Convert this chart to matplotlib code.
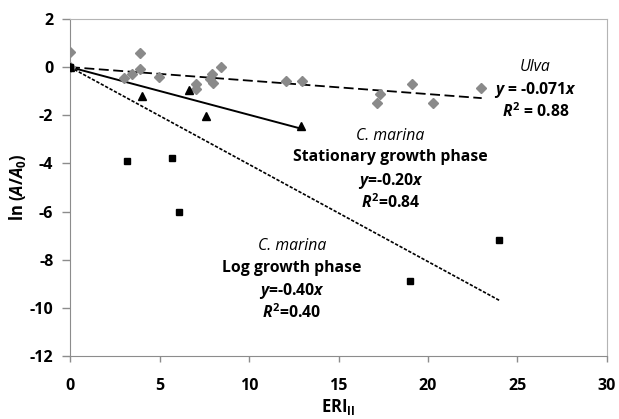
import numpy as np
import matplotlib
matplotlib.use("Agg")
import matplotlib.pyplot as plt

plt.rcParams['font.family'] = ['Open Sans', 'DejaVu Sans']
plt.rcParams['axes.unicode_minus'] = False
plt.rcParams['mathtext.fontset'] = 'custom'
plt.rcParams['mathtext.rm'] = 'Open Sans:bold'
plt.rcParams['mathtext.bf'] = 'Open Sans:bold'
plt.rcParams['mathtext.it'] = 'Open Sans:italic:bold'

# Ulva (grey diamonds)
ulva_x = [0, 0, 3.03, 3.45, 3.93, 3.93, 4.99, 7.02, 7.06, 7.82, 7.95, 8.0, 8.42,
          12.07, 12.98, 17.13, 17.32, 19.1, 20.28, 22.94]
ulva_y = [0.61, 0, -0.44, -0.29, 0.6, -0.08, -0.39, -0.72, -0.89, -0.49, -0.29,
          -0.64, 0.0, -0.56, -0.56, -1.49, -1.1, -0.71, -1.51, -0.86]
ulva_line = [0, -0.056]
ulva_xmax = 23.0

# C. marina stationary phase (triangles)
stat_x = [0, 4.04, 6.63, 7.6, 12.9]
stat_y = [0, -1.21, -0.93, -2.03, -2.46]
stat_line = [0, -0.198]
stat_xmax = 12.9

# C. marina log phase (squares)
log_x = [0, 3.17, 5.68, 6.07, 18.99, 23.98]
log_y = [0, -3.89, -3.76, -6.0, -8.9, -7.2]
log_line = [0, -0.404]
log_xmax = 24.0

fig = plt.figure(figsize=(6.19, 4.19), dpi=100)
ax = fig.add_axes([0.1131, 0.1504, 0.8675, 0.8043])

ax.plot(ulva_x, ulva_y, 'D', color='#8a8a8a', ms=5.2, zorder=3)
ax.plot(stat_x, stat_y, '^', color='black', ms=6, zorder=4)
ax.plot(log_x, log_y, 's', color='black', ms=4.8, zorder=5)

xx = np.array([0, ulva_xmax])
ax.plot(xx, ulva_line[0] + ulva_line[1] * xx, color='black', lw=1.3, dashes=(5.5, 2.5))
xx = np.array([0, stat_xmax])
ax.plot(xx, stat_line[0] + stat_line[1] * xx, color='black', lw=1.4)
xx = np.array([0, log_xmax])
ax.plot(xx, log_line[0] + log_line[1] * xx, color='black', lw=1.2, dashes=(2, 1))

ax.set_xlim(0, 30)
ax.set_ylim(-12, 2)
ax.set_xticks(range(0, 31, 5))
ax.set_yticks(range(-12, 3, 2))
for lab in ax.get_xticklabels() + ax.get_yticklabels():
    lab.set_fontweight('bold')
ax.tick_params(axis='x', direction='out', length=4, width=1, color='#8c8c8c',
               labelsize=11.5, pad=12)
ax.tick_params(axis='y', direction='out', length=6, width=1, color='#8c8c8c',
               labelsize=11.5, pad=6)
for s in ['left', 'bottom']:
    ax.spines[s].set_color('#8c8c8c')
for s in ['top', 'right']:
    ax.spines[s].set_color('#b4b4b4')

ax.set_xlabel(r'ERI$_{\mathrm{II}}$', fontsize=12, fontweight='bold', labelpad=2)
ax.set_ylabel(r'ln ($\mathit{A/A}_{0}$)', fontsize=12, fontweight='bold')
ax.yaxis.set_label_coords(-0.078, 0.5)

fs = 11.3
def txt(x, y, s, **kw):
    ax.text(x, y, s, ha='center', va='center', fontsize=fs, **kw)

txt(26.0, 0.0, 'Ulva', style='italic')
txt(26.0, -0.97, r'$y$ = -0.071$x$', fontweight='bold')
txt(26.0, -1.87, r'$R^{2}$ = 0.88', fontweight='bold')

txt(17.9, -2.87, 'C. marina', style='italic')
txt(17.9, -3.75, 'Stationary growth phase', fontweight='bold')
txt(17.9, -4.75, r'$y$=-0.20$x$', fontweight='bold')
txt(17.9, -5.62, r'$R^{2}$=0.84', fontweight='bold')

txt(12.4, -7.45, 'C. marina', style='italic')
txt(12.4, -8.35, 'Log growth phase', fontweight='bold')
txt(12.4, -9.3, r'$y$=-0.40$x$', fontweight='bold')
txt(12.4, -10.2, r'$R^{2}$=0.40', fontweight='bold')

fig.savefig('out.png', dpi=100)
